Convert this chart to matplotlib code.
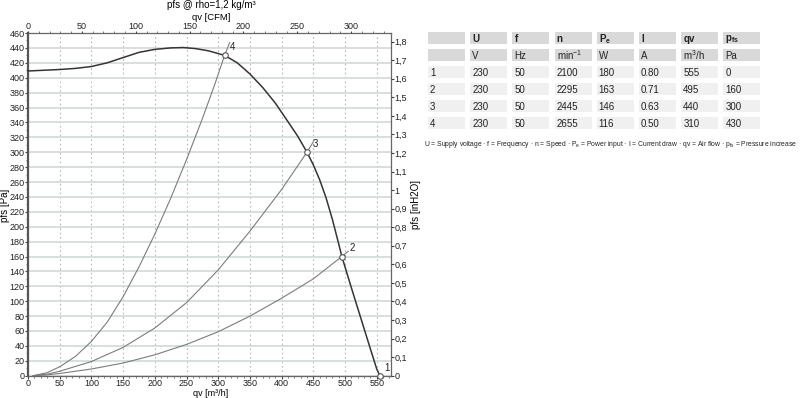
import matplotlib
matplotlib.use("Agg")
import matplotlib.pyplot as plt
from matplotlib.patches import Rectangle
from matplotlib.ticker import MultipleLocator, FuncFormatter

DPI = 100
W, H = 800, 398

plt.rcParams['font.family'] = ['Liberation Sans', 'DejaVu Sans']

# Kennlinie des Ventilators (qv in m3/h, pfs in Pa)
qv_fan = [0, 25, 50, 75, 100, 125, 150, 175, 200, 225, 245, 265, 285, 310, 330, 350, 370,
          390, 410, 425, 440, 450, 460, 470, 480, 490, 495, 510, 525, 540, 550, 555]
pfs_fan = [409, 410, 411, 412.5, 415, 420, 427, 434, 438, 440, 440.5, 439, 436, 430, 420, 405,
           387, 366, 341, 322, 300, 283, 263, 239, 210, 177, 160, 118, 77, 36, 9, 0]

# Anlagenkennlinien 2, 3, 4
qv_sys2 = [8, 30, 50, 100, 150, 200, 250, 300, 350, 400, 450, 495, 505]
pfs_sys2 = [0, 1, 3, 9, 17, 28, 42, 59, 80, 104, 130, 160, 167]
qv_sys3 = [8, 30, 50, 100, 150, 200, 250, 300, 350, 400, 440, 450]
pfs_sys3 = [0, 2, 6, 19, 38, 64, 98, 142, 194, 250, 300, 314]
qv_sys4 = [8, 30, 50, 75, 100, 125, 150, 175, 200, 225, 250, 275, 295, 310, 318]
pfs_sys4 = [0, 4, 12, 26, 46, 72, 106, 146, 190, 238, 290, 345, 392, 430, 447]

# Betriebspunkte
op_names = ['1', '2', '3', '4']
op_qv = [555, 495, 440, 310]
op_pfs = [0, 160, 300, 430]
label_qv = [566, 511, 454, 323]
label_pfs = [11, 172, 311, 441]

# Tabelle
tab_head = ['', 'U', 'f', 'n', r'P$_\mathregular{e}$', 'I', 'qv', r'p$_\mathregular{fs}$']
tab_units = ['', 'V', 'Hz', r'min$^\mathregular{-1}$', 'W', 'A', r'm$^\mathregular{3}$/h', 'Pa']
tab_rows = [
    ['1', '230', '50', '2100', '180', '0.80', '555', '0'],
    ['2', '230', '50', '2295', '163', '0.71', '495', '160'],
    ['3', '230', '50', '2445', '146', '0.63', '440', '300'],
    ['4', '230', '50', '2655', '116', '0.50', '310', '430'],
]
legend_text = (r'U = Supply voltage · f = Frequency · n = Speed · P$_\mathregular{e}$ = Power input · '
               r'I = Current draw · qv = Air flow · p$_\mathregular{fs}$ = Pressure increase')

PA_PER_INH2O = 249.089
M3H_PER_CFM = 1.69901
QMAX = 572.5
PMAX = 460

fig = plt.figure(figsize=(W / DPI, H / DPI), dpi=DPI)

# Diagramm (Pixelbox)
px0, px1, py0, py1 = 28, 391, 33, 375.7
ax = fig.add_axes([px0 / W, 1 - py1 / H, (px1 - px0) / W, (py1 - py0) / H])
ax.set_xlim(0, QMAX)
ax.set_ylim(0, PMAX)

ax.xaxis.set_major_locator(MultipleLocator(50))
ax.xaxis.set_minor_locator(MultipleLocator(10))
ax.yaxis.set_major_locator(MultipleLocator(20))
ax.yaxis.set_minor_locator(MultipleLocator(10))
ax.grid(True, axis='x', which='major', color='#b8b8b8', lw=0.8, ls=(0, (1.5, 2.5)))
ax.grid(True, axis='y', which='major', color='#d2d9d9', lw=1.2)
ax.set_axisbelow(True)
ax.tick_params(which='major', direction='out', length=2, width=0.8, colors='#444',
               labelsize=6.5, labelcolor='#222', pad=0.5)
ax.tick_params(which='minor', direction='out', length=1.5, width=0.6, colors='#666')
for name, sp in ax.spines.items():
    sp.set_color('#666')
    sp.set_linewidth(0.9)
ax.spines['left'].set_linewidth(1.6)
ax.spines['left'].set_color('#555')

ax.plot(qv_sys2, pfs_sys2, color='#7c7c7c', lw=0.8, zorder=2)
ax.plot(qv_sys3, pfs_sys3, color='#7c7c7c', lw=0.8, zorder=2)
ax.plot(qv_sys4, pfs_sys4, color='#7c7c7c', lw=0.8, zorder=2)
ax.plot(qv_fan, pfs_fan, color='#353535', lw=1.1, zorder=3, clip_on=False)
ax.plot(op_qv, op_pfs, 'o', ms=4, mfc='white', mec='#555', mew=0.8, zorder=4, clip_on=False)
for name, q, p in zip(op_names, label_qv, label_pfs):
    ax.text(q, p, name, fontsize=7, ha='center', va='center', color='#222')

# rechte Achse in inH2O
axr = ax.twinx()
axr.set_ylim(0, PMAX / PA_PER_INH2O)
axr.yaxis.set_major_locator(MultipleLocator(0.1))
axr.yaxis.set_major_formatter(FuncFormatter(
    lambda v, pos: f'{v:.1f}'.rstrip('0').rstrip('.').replace('.', ',')))
axr.tick_params(direction='out', length=2, width=0.8, colors='#444',
                labelsize=6.5, labelcolor='#222', pad=0.5)
for sp in axr.spines.values():
    sp.set_visible(False)

# obere Achse in CFM
axt = ax.twiny()
axt.set_xlim(0, QMAX / M3H_PER_CFM)
axt.xaxis.set_major_locator(MultipleLocator(50))
axt.xaxis.set_minor_locator(MultipleLocator(10))
axt.tick_params(which='major', direction='out', length=1.5, width=0.8, colors='#444',
                labelsize=6.5, labelcolor='#222', pad=0.3)
axt.tick_params(which='minor', direction='out', length=1.2, width=0.6, colors='#666')
for sp in axt.spines.values():
    sp.set_visible(False)

# Achsentitel
fig.text(211 / W, 1 - 4.5 / H, 'pfs @ rho=1,2 kg/m³', ha='center', va='center', fontsize=7)
fig.text(211 / W, 1 - 17.5 / H, 'qv [CFM]', ha='center', va='center', fontsize=6.8)
fig.text(211 / W, 1 - 393.5 / H, 'qv [m³/h]', ha='center', va='center', fontsize=6.5)
fig.text(4.5 / W, 1 - 205 / H, 'pfs [Pa]', ha='center', va='center', fontsize=7, rotation=90)
fig.text(416 / W, 1 - 205 / H, 'pfs [inH2O]', ha='center', va='center', fontsize=7, rotation=90)

# Tabelle rechts
tab = fig.add_axes([0, 0, 1, 1])
tab.set_xlim(0, W)
tab.set_ylim(H, 0)
tab.axis('off')
tab.patch.set_alpha(0)

cell_x0, cell_pitch, cell_w = 428, 42.2, 37
row_y0, row_pitch, row_h = 32.3, 17.0, 11.6
all_rows = [tab_head, tab_units] + tab_rows
for r, row in enumerate(all_rows):
    top = row_y0 + r * row_pitch
    face = '#d9d9d9' if r < 2 else '#f0f0f0'
    for c, txt in enumerate(row):
        left = cell_x0 + c * cell_pitch
        tab.add_patch(Rectangle((left, top), cell_w, row_h, facecolor=face, edgecolor='none'))
        if txt:
            tab.text(left + 2, top + row_h / 2 + 0.5, txt, fontsize=7, ha='left', va='center',
                     color='#222', fontweight='bold' if r == 0 else 'normal')

tab.text(424, 145, legend_text, fontsize=4.85, ha='left', va='center', color='#222')

fig.savefig('out.png', dpi=DPI)
plt.close(fig)
